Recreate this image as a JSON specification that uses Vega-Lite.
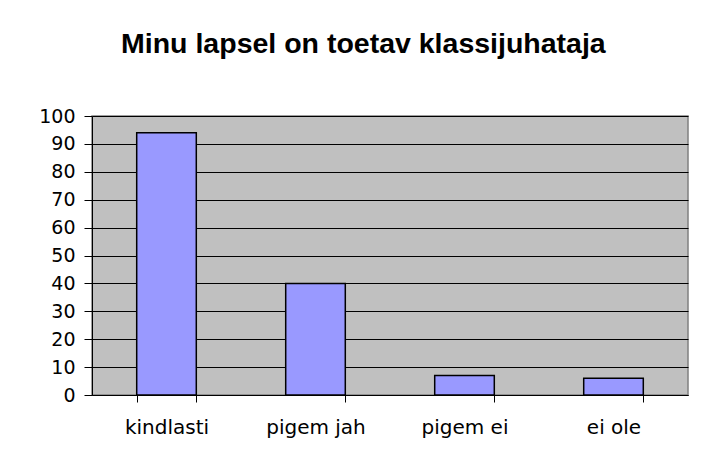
{
  "$schema": "https://vega.github.io/schema/vega-lite/v6.json",
  "width": 596,
  "height": 279,
  "autosize": {"type": "none"},
  "padding": {"left": 92, "top": 116, "right": 17, "bottom": 62},
  "background": "white",
  "title": {
    "text": "Minu lapsel on toetav klassijuhataja",
    "font": "Liberation Sans",
    "fontSize": 28.5,
    "fontWeight": "bold",
    "color": "black",
    "anchor": "middle",
    "frame": "bounds",
    "offset": 49
  },
  "data": {
    "values": [
      {"vastus": "kindlasti", "protsent": 94},
      {"vastus": "pigem jah", "protsent": 40},
      {"vastus": "pigem ei", "protsent": 7},
      {"vastus": "ei ole", "protsent": 6}
    ]
  },
  "mark": {"type": "bar", "fill": "#9999FF", "stroke": "black", "strokeWidth": 1.5},
  "encoding": {
    "x": {
      "field": "vastus",
      "type": "nominal",
      "sort": null,
      "scale": {"paddingInner": 0.6, "paddingOuter": 0.3},
      "axis": {
        "title": null,
        "labelAngle": 0,
        "labelFont": "DejaVu Sans",
        "labelFontSize": 20,
        "labelColor": "black",
        "labelPadding": 15,
        "tickBand": "extent",
        "tickColor": "black",
        "tickSize": 7,
        "domainColor": "black",
        "grid": false
      }
    },
    "y": {
      "field": "protsent",
      "type": "quantitative",
      "scale": {"domain": [0, 100], "nice": false},
      "axis": {
        "title": null,
        "values": [0, 10, 20, 30, 40, 50, 60, 70, 80, 90, 100],
        "labelFont": "DejaVu Sans",
        "labelFontSize": 19,
        "labelColor": "black",
        "labelPadding": 9,
        "tickColor": "black",
        "tickSize": 8,
        "domainColor": "black",
        "grid": true,
        "gridColor": "black",
        "gridOpacity": 1
      }
    }
  },
  "config": {
    "view": {"fill": "#C0C0C0", "stroke": "#808080", "strokeWidth": 1.5}
  }
}
